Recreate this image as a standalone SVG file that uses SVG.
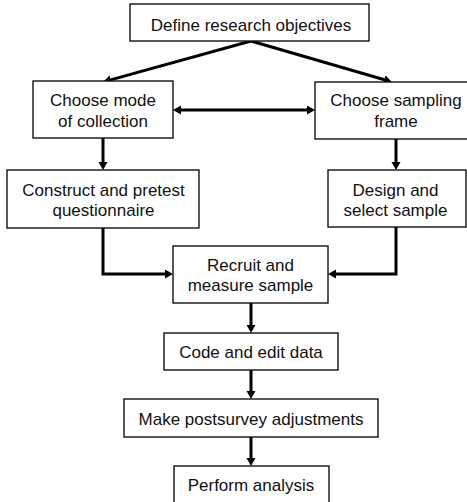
<svg xmlns="http://www.w3.org/2000/svg" width="467" height="502" viewBox="0 0 467 502">
<style>
.box{fill:#fff;stroke:#111;stroke-width:1.4}
.lbl{font-family:"Liberation Sans",Arial,sans-serif;font-size:17px;fill:#111;text-anchor:middle}
.conn{fill:none;stroke:#000;stroke-width:3}
</style>
<defs>
<marker id="ah" markerUnits="userSpaceOnUse" markerWidth="9" markerHeight="10" refX="2" refY="4.5" orient="auto-start-reverse">
<path d="M0,0 L8,4.5 L0,9 Z" fill="#000"/>
</marker>
</defs>
<rect width="467" height="502" fill="#fff"/>
<g id="connectors">
<path class="conn" d="M251,41 L108.8,80.4" marker-end="url(#ah)"/>
<path class="conn" d="M251,41 L386.2,80.3" marker-end="url(#ah)"/>
<path class="conn" d="M179,110 H309" marker-start="url(#ah)" marker-end="url(#ah)"/>
<path class="conn" d="M103,138 V164" marker-end="url(#ah)"/>
<path class="conn" d="M396,139 V164" marker-end="url(#ah)"/>
<path class="conn" d="M103,228 V274 H167" marker-end="url(#ah)"/>
<path class="conn" d="M396,227 V274 H334" marker-end="url(#ah)"/>
<path class="conn" d="M251,303 V327" marker-end="url(#ah)"/>
<path class="conn" d="M251,370 V393" marker-end="url(#ah)"/>
<path class="conn" d="M251,437 V460" marker-end="url(#ah)"/>
</g>
<g id="define">
<rect class="box" x="130" y="4" width="239" height="37"/>
<text class="lbl" x="251" y="30.5">Define research objectives</text>
</g>
<g id="mode">
<rect class="box" x="33" y="81" width="140" height="57"/>
<text class="lbl" x="103" y="106">Choose mode</text>
<text class="lbl" x="103" y="127">of collection</text>
</g>
<g id="frame">
<rect class="box" x="315" y="82" width="160" height="57"/>
<text class="lbl" x="396" y="106">Choose sampling</text>
<text class="lbl" x="396" y="127">frame</text>
</g>
<g id="construct">
<rect class="box" x="7" y="170" width="192" height="58"/>
<text class="lbl" x="103.5" y="196">Construct and pretest</text>
<text class="lbl" x="103.5" y="216">questionnaire</text>
</g>
<g id="design">
<rect class="box" x="328" y="170" width="138" height="57"/>
<text class="lbl" x="395.5" y="196">Design and</text>
<text class="lbl" x="395.5" y="216">select sample</text>
</g>
<g id="recruit">
<rect class="box" x="173" y="246" width="155" height="57"/>
<text class="lbl" x="250.5" y="271">Recruit and</text>
<text class="lbl" x="250.5" y="291">measure sample</text>
</g>
<g id="code">
<rect class="box" x="164" y="333" width="174" height="37"/>
<text class="lbl" x="251" y="358">Code and edit data</text>
</g>
<g id="adjust">
<rect class="box" x="124" y="399" width="254" height="38"/>
<text class="lbl" x="251" y="425">Make postsurvey adjustments</text>
</g>
<g id="analysis">
<rect class="box" x="174" y="466" width="155" height="50"/>
<text class="lbl" x="251" y="491">Perform analysis</text>
</g>
</svg>
